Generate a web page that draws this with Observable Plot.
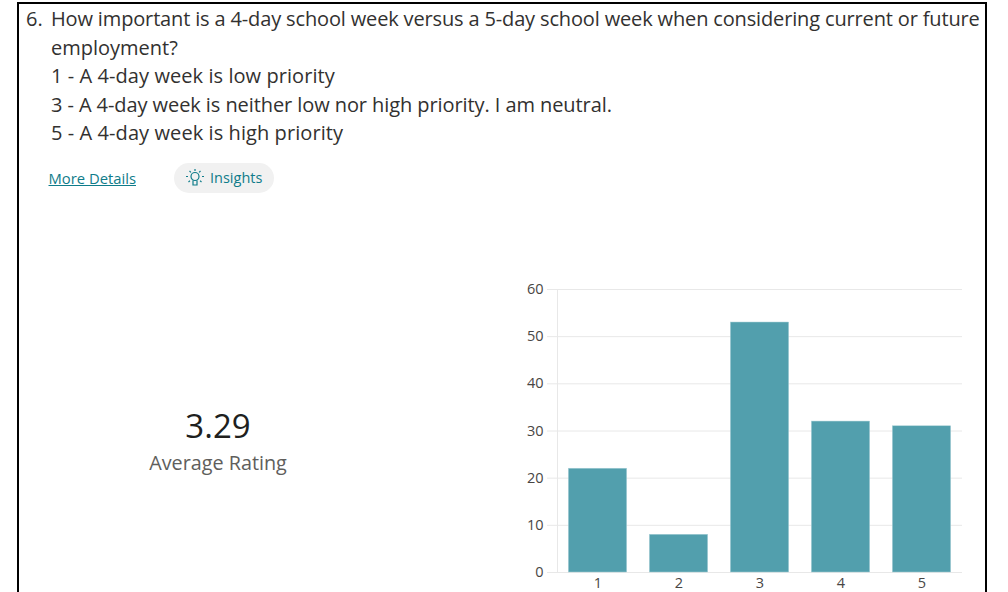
<!DOCTYPE html>
<html><head><meta charset="utf-8">
<script src="https://cdn.jsdelivr.net/npm/d3@7"></script>
<script src="https://cdn.jsdelivr.net/npm/@observablehq/plot@0.6"></script>
<style>
html,body{margin:0;padding:0;background:#fff;overflow:hidden;width:1008px;height:592px}
body{font-family:"Open Sans","Noto Sans",sans-serif;color:#323130;position:relative}
#box{position:absolute;left:17px;top:2px;width:970px;height:600px;border:2px solid #000;box-sizing:border-box}
.t{position:absolute;white-space:nowrap;font-size:20px;line-height:28px}
#more{position:absolute;left:48.5px;top:168px;font-size:14.8px;line-height:20px;color:#0f7c8a;text-decoration:underline}
#pill{position:absolute;left:174px;top:163px;width:100px;height:30px;border-radius:15px;background:#f1f1f1}
#pill span{position:absolute;left:36px;top:5px;font-size:14.5px;line-height:20px;color:#0f7c8a}
#pill svg{position:absolute;left:11px;top:5px}
#rating{position:absolute;left:118px;width:200px;text-align:center;top:404px;font-size:33px;line-height:44px;color:#201f1e}
#label{position:absolute;left:118px;width:200px;text-align:center;top:449px;font-size:19.8px;line-height:28px;color:#605e5c}
#chart{position:absolute;left:510px;top:270px}
#chart svg{display:block}
</style></head><body>
<div id="box"></div>
<div class="t" style="left:26px;top:5px">6.</div>
<div id="lines"></div>
<div id="more"></div>
<div id="pill"><svg width="20" height="20" viewBox="0 0 20 20" fill="none" stroke="#0f7c8a" stroke-width="1.2"><circle cx="10" cy="8.5" r="4"/><path d="M8 12.5v4.5h4v-4.5M10 1v2M3 8.5H1M19 8.5h-2M4.5 3l1.4 1.4M15.5 3l-1.4 1.4M3.5 14l1.4-1.2M16.5 14l-1.4-1.2"/></svg><span id="ins"></span></div>
<div id="rating"></div>
<div id="label"></div>
<div id="chart"></div>
<script>
const questionLines = [
  "How important is a 4-day school week versus a 5-day school week when considering current or future",
  "employment?",
  "1 - A 4-day week is low priority",
  "3 - A 4-day week is neither low nor high priority. I am neutral.",
  "5 - A 4-day week is high priority"
];
const ratings = ["1","2","3","4","5"];
const counts = [22,8,53,32,31];
const yTicks = [0,10,20,30,40,50,60];
const averageRating = "3.29";
const averageLabel = "Average Rating";

const lineTops = [5,34,62,91,119];
const lineSpacing = [-0.15,0,0.07,-0.08,0.08];
questionLines.forEach((s,i)=>{
  const d=document.createElement("div");
  d.className="t"; d.textContent=s;
  d.style.left="51px"; d.style.top=lineTops[i]+"px";
  d.style.letterSpacing=lineSpacing[i]+"px";
  document.getElementById("lines").appendChild(d);
});
document.getElementById("more").textContent="More Details";
document.getElementById("ins").textContent="Insights";
document.getElementById("rating").textContent=averageRating;
document.getElementById("label").textContent=averageLabel;

const data = ratings.map((r,i)=>({rating:r,count:counts[i]}));
const chart = Plot.plot({
  width:478, height:322,
  marginLeft:47, marginRight:26, marginTop:19, marginBottom:20,
  style:{fontFamily:'"Open Sans","Noto Sans",sans-serif',fontSize:"14.5px",color:"#484644",background:"transparent"},
  x:{domain:ratings,paddingInner:0.28,paddingOuter:0.14,round:false,label:null},
  y:{domain:[0,60],label:null},
  marks:[
    Plot.ruleY(yTicks,{stroke:"#e8e8e8",strokeWidth:1,strokeOpacity:1,insetLeft:-10}),
    Plot.frame({anchor:"left",stroke:"#e8e8e8",strokeOpacity:1}),
    Plot.barY(data,{x:"rating",y:"count",fill:"#529fad",stroke:"#a9d0d7",strokeWidth:0.5}),
    Plot.axisY({ticks:yTicks,tickSize:0,tickPadding:14,label:null,fontSize:14.5}),
    Plot.axisX({tickSize:0,tickPadding:5,label:null,fontSize:14.5})
  ]
});
document.getElementById("chart").appendChild(chart);
</script>
</body></html>
